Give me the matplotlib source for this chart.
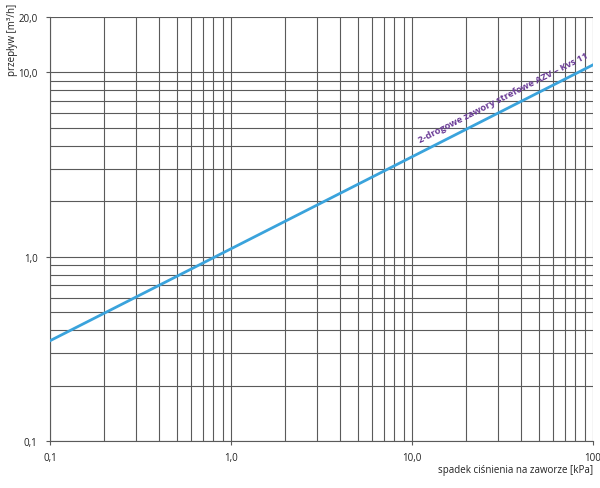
import numpy as np
import matplotlib
matplotlib.use("Agg")
import matplotlib.pyplot as plt
from matplotlib.ticker import FixedLocator, NullFormatter

# pressure drop [kPa] and flow [m3/h] at the ends of the line
dp_kpa = [0.1, 100.0]
flow_m3h = [0.35, 11.0]

x_ticks = [0.1, 1.0, 10.0, 100.0]
x_labels = ["0,1", "1,0", "10,0", "100"]
y_ticks = [0.1, 1.0, 10.0, 20.0]
y_labels = ["0,1", "1,0", "10,0", "20,0"]

series_label = "2-drogowe zawory strefowe AZV \u2013 Kvs 11"

plt.rcParams["font.family"] = ["Open Sans", "DejaVu Sans"]

fig = plt.figure(figsize=(6.0, 4.89), dpi=100)
ax = fig.add_axes([50 / 600, 47 / 489, 543 / 600, 424 / 489])

ax.set_xscale("log")
ax.set_yscale("log")
ax.set_xlim(0.1, 100)
ax.set_ylim(0.1, 20)

# grid at every 1..9 step of each decade
x_grid = [m * 10.0 ** e for e in range(-1, 2) for m in range(1, 10)] + [100.0]
y_grid = [m * 10.0 ** e for e in range(-1, 1) for m in range(1, 10)] + [10.0, 20.0]
for gx in x_grid:
    ax.axvline(gx, color="#5a5a5a", linewidth=0.8, zorder=1)
for gy in y_grid:
    ax.axhline(gy, color="#5a5a5a", linewidth=0.8, zorder=1)

ax.plot(dp_kpa, flow_m3h, color="#3aa3dc", linewidth=2.0, zorder=3)

ax.xaxis.set_major_locator(FixedLocator(x_ticks))
ax.yaxis.set_major_locator(FixedLocator(y_ticks))
ax.xaxis.set_minor_locator(FixedLocator([]))
ax.yaxis.set_minor_locator(FixedLocator([]))
ax.xaxis.set_minor_formatter(NullFormatter())
ax.yaxis.set_minor_formatter(NullFormatter())
ax.set_xticklabels(x_labels)
ax.set_yticklabels(y_labels)
ax.tick_params(axis="both", labelsize=7, length=3, width=0.8, color="#5a5a5a",
               labelcolor="#222222")
ax.tick_params(axis="x", pad=5)
ax.tick_params(axis="y", pad=6)

for side in ["top", "right"]:
    ax.spines[side].set_visible(False)
for side in ["left", "bottom"]:
    ax.spines[side].set_color("#5a5a5a")
    ax.spines[side].set_linewidth(0.8)

# label rotated along the line
fig.canvas.draw()
p0 = ax.transData.transform((dp_kpa[0], flow_m3h[0]))
p1 = ax.transData.transform((dp_kpa[1], flow_m3h[1]))
angle = np.degrees(np.arctan2(p1[1] - p0[1], p1[0] - p0[0]))
ax.text(33, 7.0, series_label, rotation=angle, rotation_mode="anchor",
        ha="center", va="bottom", fontsize=6.8, fontweight="bold",
        color="#6a3a96", zorder=4)

fig.text(593 / 600, 1 - 471 / 489, "spadek ciśnienia na zaworze [kPa]",
         ha="right", va="center", fontsize=7, color="#222222")
fig.text(13 / 600, 1 - 40 / 489, "przepływ [m³/h]", rotation=90,
         ha="center", va="center", fontsize=7, color="#222222")

fig.savefig("out.png", dpi=100)
